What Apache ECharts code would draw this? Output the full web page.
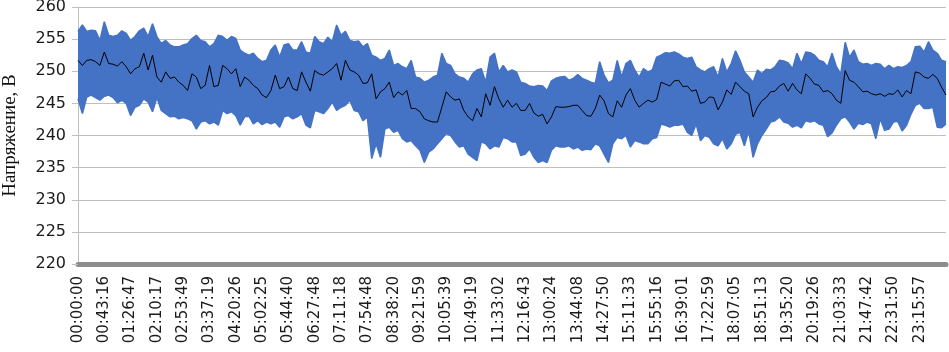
<!DOCTYPE html>
<html>
<head>
<meta charset="utf-8">
<script src="https://cdn.jsdelivr.net/npm/echarts@6/dist/echarts.min.js"></script>
<style>html,body{margin:0;padding:0;background:#fff}#c{width:949px;height:352px}</style>
</head>
<body>
<div id="c"></div>
<script>
const tickLabels = ['00:00:00','00:43:16','01:26:47','02:10:17','02:53:49','03:37:19','04:20:26','05:02:25','05:44:40','06:27:48','07:11:18','07:54:48','08:38:20','09:21:59','10:05:39','10:49:19','11:33:02','12:16:43','13:00:24','13:44:08','14:27:50','15:11:33','15:55:16','16:39:01','17:22:59','18:07:05','18:51:13','19:35:20','20:19:26','21:03:33','21:47:42','22:31:50','23:15:57'];
const pointsPerLabel = 6;

const upperEnvelope = [
256.2,257.2,256.2,256.4,256.3,254.8,257.7,255.6,255.4,255.6,256.3,255.9,254.8,255.4,256.3,256.7,255.4,257.4,255.4,254.3,254.8,254.1,253.8,253.8,254.1,254.3,255.1,255.6,254.8,254.6,253.8,254.3,255.6,255.4,254.8,255.4,255.1,253.3,252.8,252.5,252.8,252.0,251.5,251.7,253.3,254.1,252.2,254.1,254.3,253.3,253.3,
254.6,253.0,252.8,255.4,254.6,254.3,255.3,254.6,257.2,255.6,256.2,254.8,254.6,254.7,253.8,254.3,252.5,252.2,251.7,252.0,253.3,250.9,251.2,250.7,250.4,251.7,249.1,248.9,248.3,248.6,249.1,249.4,252.8,251.2,250.9,249.6,249.1,248.9,248.3,249.6,250.2,250.4,248.3,252.2,252.8,249.9,250.9,249.9,250.2,
249.9,248.3,248.1,247.7,247.6,247.8,247.7,247.0,248.5,248.9,249.1,249.2,248.6,248.9,249.5,248.9,248.6,248.3,248.1,251.5,249.4,248.2,248.6,251.7,249.1,251.2,251.7,250.2,249.1,250.4,249.9,250.2,252.2,252.5,252.9,252.8,253.0,252.7,252.2,252.0,252.2,250.7,250.2,249.9,250.4,250.7,249.1,252.0,249.9,
251.2,253.2,251.7,249.9,249.1,248.3,250.2,249.6,250.3,250.2,250.7,251.7,251.6,251.3,250.4,252.8,251.2,253.0,252.9,252.5,251.7,251.5,250.7,252.8,250.7,249.6,254.5,252.2,253.3,251.5,251.1,251.2,250.9,251.2,251.1,250.4,250.9,250.4,250.7,250.6,250.9,251.5,253.8,253.9,253.0,254.6,253.3,252.8,251.7,251.5
];

const lowerEnvelope = [
245.7,243.4,246.0,246.3,245.9,245.5,246.1,246.3,245.9,245.1,245.5,245.0,243.1,244.4,244.7,245.7,245.2,243.7,245.9,243.9,243.4,242.9,243.0,242.6,242.8,242.6,242.3,241.0,242.1,242.3,241.8,242.1,241.6,243.9,243.4,243.7,243.1,241.6,242.9,243.0,241.8,242.3,241.7,242.1,241.8,242.1,241.3,242.9,243.1,242.6,242.9,
243.4,241.6,241.2,243.9,243.7,243.4,244.2,245.2,243.9,244.4,244.7,245.5,243.9,243.7,242.3,242.9,236.4,238.7,236.6,241.0,241.3,240.5,240.8,239.5,239.0,239.2,238.4,237.7,235.8,237.4,237.9,238.7,239.5,240.3,240.0,239.0,238.2,238.4,237.1,236.6,236.1,239.0,238.7,237.9,238.4,238.2,239.7,239.5,239.0,
239.0,236.9,237.1,237.9,236.6,235.8,236.1,235.8,237.7,238.4,238.2,238.2,238.4,237.9,238.2,237.7,237.9,237.8,238.7,238.4,237.1,235.8,238.7,239.7,239.5,240.0,238.2,239.2,239.0,238.7,238.7,239.5,239.7,241.8,241.6,241.3,241.6,241.6,241.8,240.5,240.0,241.8,239.2,240.0,239.7,238.7,238.4,239.5,237.9,
238.7,240.2,240.5,238.4,240.7,236.6,238.7,240.0,241.0,242.1,242.3,242.9,242.1,241.9,241.3,241.6,241.2,242.3,242.1,242.3,241.8,241.6,239.8,240.4,241.6,242.6,242.9,242.1,241.0,241.9,241.7,242.1,241.8,239.5,242.6,240.8,241.0,242.1,242.2,240.7,241.6,243.3,244.7,245.0,244.2,244.2,244.4,241.3,241.2,241.8
];

const meanLine = [
251.7,250.9,251.7,251.8,251.5,250.9,253.0,251.2,251.1,250.8,251.5,250.7,249.6,250.4,250.7,252.8,250.2,252.5,249.1,248.3,249.9,248.9,249.1,248.3,247.8,247.0,249.6,249.1,247.3,247.8,250.9,247.6,247.8,250.9,250.4,249.6,250.4,247.6,249.1,248.6,247.8,247.3,246.3,245.9,247.0,249.4,247.3,247.6,249.1,247.3,247.0,
249.9,248.3,246.9,250.1,249.6,249.4,249.9,250.4,251.2,248.6,251.7,250.2,249.9,249.4,248.1,248.2,249.6,245.7,246.8,247.3,248.3,245.9,246.8,246.3,247.0,244.2,244.2,243.7,242.6,242.3,242.1,242.1,244.4,246.8,246.0,245.5,245.7,243.9,242.9,242.3,244.2,242.9,246.5,244.7,247.6,245.7,244.4,245.5,244.4,
245.0,243.9,243.9,245.0,243.5,243.0,243.3,241.8,242.9,244.5,244.4,244.4,244.5,244.7,244.7,243.9,243.1,243.0,244.2,246.3,245.4,243.4,242.9,245.4,244.4,246.3,247.3,245.5,244.4,245.0,245.5,245.2,245.6,248.3,248.0,247.7,248.5,248.6,247.6,247.7,246.9,247.1,245.0,245.2,246.0,245.9,244.0,245.2,247.1,
246.4,248.3,247.6,246.9,246.5,242.9,244.4,245.4,245.9,246.8,246.9,247.7,248.1,246.9,248.1,247.1,246.5,249.6,248.9,248.0,247.8,246.8,247.0,246.5,245.5,245.0,250.1,248.6,248.3,247.6,246.8,246.9,246.5,246.3,246.5,246.1,246.5,246.4,247.1,246.0,247.0,246.5,249.9,249.7,249.1,248.9,249.5,248.9,247.5,246.3
];

const categories = upperEnvelope.map((_, i) =>
  (i % pointsPerLabel === 0 && tickLabels[i / pointsPerLabel] !== undefined) ? tickLabels[i / pointsPerLabel] : '');
const bandHeight = upperEnvelope.map((u, i) => +(u - lowerEnvelope[i]).toFixed(2));

const blue = '#4472C4';
const chart = echarts.init(document.getElementById('c'), null, {renderer: 'canvas'});
chart.setOption({
  animation: false,
  backgroundColor: '#fff',
  grid: {left: 78, right: 3, top: 7, bottom: 88, containLabel: false, outerBoundsMode: 'none'},
  xAxis: {
    type: 'category',
    data: categories,
    boundaryGap: false,
    axisLine: {show: true, lineStyle: {color: '#8c8c8c', width: 5}},
    axisTick: {show: false},
    axisLabel: {interval: 0, rotate: 90, margin: 12, fontFamily: 'DejaVu Sans', fontSize: 15, color: '#1a1a1a'},
    splitLine: {show: false}
  },
  yAxis: {
    type: 'value',
    min: 220, max: 260, interval: 5,
    name: 'Напряжение, В',
    nameLocation: 'middle',
    nameGap: 58,
    nameRotate: 90,
    nameTextStyle: {fontFamily: 'Liberation Serif', fontSize: 19, color: '#111'},
    axisLine: {show: true, lineStyle: {color: '#bfbfbf', width: 1}},
    axisTick: {show: true, length: 6, lineStyle: {color: '#bfbfbf'}},
    axisLabel: {margin: 12, fontFamily: 'DejaVu Sans', fontSize: 16, color: '#1a1a1a'},
    splitLine: {show: true, lineStyle: {color: '#bfbfbf', width: 1}}
  },
  series: [
    {type: 'line', name: 'low', data: lowerEnvelope, stack: 'band', symbol: 'none',
     lineStyle: {color: blue, width: 1.5}, silent: true, z: 2},
    {type: 'line', name: 'band', data: bandHeight, stack: 'band', symbol: 'none',
     lineStyle: {color: blue, width: 1.5}, areaStyle: {color: blue, opacity: 1}, silent: true, z: 2},
    {type: 'line', name: 'mean', data: meanLine, symbol: 'none',
     lineStyle: {color: '#000', width: 1}, silent: true, z: 3}
  ]
});
</script>
</body>
</html>
